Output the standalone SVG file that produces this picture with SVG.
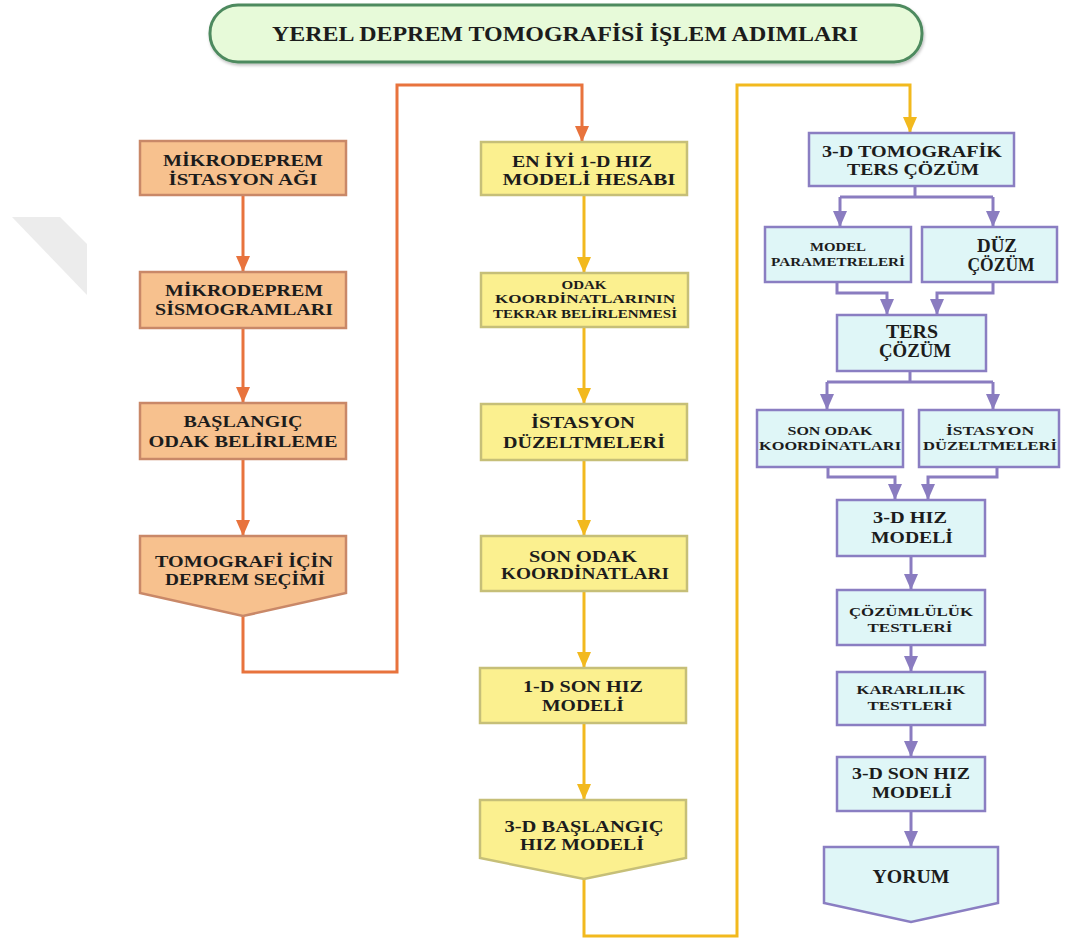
<svg xmlns="http://www.w3.org/2000/svg" width="1065" height="942" viewBox="0 0 1065 942">
<style>
text{font-family:"Liberation Serif","Times New Roman",serif;font-weight:bold;fill:#1c1c1c;text-anchor:middle}
.t20{font-size:21px}.t16{font-size:17px}.t12{font-size:12.5px}.t13{font-size:13.5px}.t17{font-size:18px}.t18{font-size:19px}
.or{fill:#f7c18e;stroke:#c98868;stroke-width:2.5}
.ye{fill:#fbf08f;stroke:#c6bf78;stroke-width:2.5}
.bl{fill:#dff6f7;stroke:#8a7ec2;stroke-width:2.5}
.co{fill:none;stroke:#e8733d;stroke-width:3}
.cy{fill:none;stroke:#f2b91e;stroke-width:3}
.cp{fill:none;stroke:#8a7cc0;stroke-width:3}
</style>
<defs>
<marker id="ao" viewBox="0 0 16 14" refX="15" refY="7" markerWidth="16" markerHeight="14" markerUnits="userSpaceOnUse" orient="auto"><path d="M0,0 L16,7 L0,14 z" fill="#e8733d"/></marker>
<marker id="ay" viewBox="0 0 16 14" refX="15" refY="7" markerWidth="16" markerHeight="14" markerUnits="userSpaceOnUse" orient="auto"><path d="M0,0 L16,7 L0,14 z" fill="#f2b91e"/></marker>
<marker id="ap" viewBox="0 0 16 14" refX="15" refY="7" markerWidth="16" markerHeight="14" markerUnits="userSpaceOnUse" orient="auto"><path d="M0,0 L16,7 L0,14 z" fill="#8a7cc0"/></marker>
<filter id="sh" x="-5%" y="-20%" width="110%" height="150%"><feDropShadow dx="1" dy="2" stdDeviation="1.5" flood-color="#000" flood-opacity="0.25"/></filter>
</defs>
<rect width="1065" height="942" fill="#ffffff"/>
<polygon points="12,217 60,217 87,244 87,295" fill="#ececec"/>

<g id="title">
<rect x="210" y="5" width="712" height="57" rx="28" ry="28" fill="#e7fad9" stroke="#4e8a5e" stroke-width="3" filter="url(#sh)"/>
<text class="t20" x="565" y="41" textLength="586" lengthAdjust="spacingAndGlyphs">YEREL DEPREM TOMOGRAFİSİ İŞLEM ADIMLARI</text>
</g>

<g id="connectors">
<path class="co" d="M243,195 V271" marker-end="url(#ao)"/>
<path class="co" d="M243,328 V402" marker-end="url(#ao)"/>
<path class="co" d="M243,459 V535" marker-end="url(#ao)"/>
<path class="co" d="M243,616 V672 H397 V85 H582 V141" marker-end="url(#ao)"/>
<path class="cy" d="M584,195 V272" marker-end="url(#ay)"/>
<path class="cy" d="M584,327 V403" marker-end="url(#ay)"/>
<path class="cy" d="M584,460 V535" marker-end="url(#ay)"/>
<path class="cy" d="M584,591 V667" marker-end="url(#ay)"/>
<path class="cy" d="M584,723 V799" marker-end="url(#ay)"/>
<path class="cy" d="M584,879 V936 H737 V85 H910 V132" marker-end="url(#ay)"/>
<path class="cp" d="M915,186 V197"/>
<path class="cp" d="M840,197 H993"/>
<path class="cp" d="M840,197 V226" marker-end="url(#ap)"/>
<path class="cp" d="M993,197 V226" marker-end="url(#ap)"/>
<path class="cp" d="M837,282 V293 H887 V314" marker-end="url(#ap)"/>
<path class="cp" d="M993,282 V293 H937 V314" marker-end="url(#ap)"/>
<path class="cp" d="M910,371 V382"/>
<path class="cp" d="M827,382 H993"/>
<path class="cp" d="M827,382 V409" marker-end="url(#ap)"/>
<path class="cp" d="M993,382 V409" marker-end="url(#ap)"/>
<path class="cp" d="M828,467 V477 H895 V499" marker-end="url(#ap)"/>
<path class="cp" d="M997,467 V477 H928 V499" marker-end="url(#ap)"/>
<path class="cp" d="M911,556 V589" marker-end="url(#ap)"/>
<path class="cp" d="M911,645 V671" marker-end="url(#ap)"/>
<path class="cp" d="M911,725 V756" marker-end="url(#ap)"/>
<path class="cp" d="M911,811 V846" marker-end="url(#ap)"/>
</g>

<g id="n-istasyon-agi"><rect class="or" x="140" y="141" width="206" height="54"/>
<text class="t16" x="243" y="166" textLength="160" lengthAdjust="spacingAndGlyphs">MİKRODEPREM</text>
<text class="t16" x="243" y="185" textLength="149" lengthAdjust="spacingAndGlyphs">İSTASYON AĞI</text></g>
<g id="n-sismogramlar"><rect class="or" x="140" y="272" width="206" height="56"/>
<text class="t16" x="244" y="296" textLength="158" lengthAdjust="spacingAndGlyphs">MİKRODEPREM</text>
<text class="t16" x="244" y="315" textLength="178" lengthAdjust="spacingAndGlyphs">SİSMOGRAMLARI</text></g>
<g id="n-baslangic-odak"><rect class="or" x="140" y="403" width="206" height="56"/>
<text class="t16" x="243" y="427" textLength="119" lengthAdjust="spacingAndGlyphs">BAŞLANGIÇ</text>
<text class="t16" x="243" y="447" textLength="189" lengthAdjust="spacingAndGlyphs">ODAK BELİRLEME</text></g>
<g id="n-deprem-secimi"><polygon class="or" points="140,536 346,536 346,593 243,616 140,593"/>
<text class="t16" x="244" y="567" textLength="178" lengthAdjust="spacingAndGlyphs">TOMOGRAFİ İÇİN</text>
<text class="t16" x="245" y="585" textLength="160" lengthAdjust="spacingAndGlyphs">DEPREM SEÇİMİ</text></g>

<g id="n-en-iyi-1d"><rect class="ye" x="481" y="142" width="206" height="53"/>
<text class="t16" x="582" y="167" textLength="140" lengthAdjust="spacingAndGlyphs">EN İYİ 1-D HIZ</text>
<text class="t16" x="589" y="185" textLength="173" lengthAdjust="spacingAndGlyphs">MODELİ HESABI</text></g>
<g id="n-odak-tekrar"><rect class="ye" x="481" y="273" width="207" height="54"/>
<text class="t12" x="584" y="289" textLength="45" lengthAdjust="spacingAndGlyphs">ODAK</text>
<text class="t12" x="585" y="303" textLength="180" lengthAdjust="spacingAndGlyphs">KOORDİNATLARININ</text>
<text class="t12" x="585" y="318" textLength="184" lengthAdjust="spacingAndGlyphs">TEKRAR BELİRLENMESİ</text></g>
<g id="n-istasyon-duz-1"><rect class="ye" x="481" y="404" width="206" height="56"/>
<text class="t16" x="583" y="428" textLength="104" lengthAdjust="spacingAndGlyphs">İSTASYON</text>
<text class="t16" x="584" y="448" textLength="162" lengthAdjust="spacingAndGlyphs">DÜZELTMELERİ</text></g>
<g id="n-son-odak-1"><rect class="ye" x="481" y="536" width="206" height="55"/>
<text class="t16" x="583" y="562" textLength="108" lengthAdjust="spacingAndGlyphs">SON ODAK</text>
<text class="t16" x="585" y="579" textLength="168" lengthAdjust="spacingAndGlyphs">KOORDİNATLARI</text></g>
<g id="n-1d-son"><rect class="ye" x="480" y="668" width="206" height="55"/>
<text class="t16" x="583" y="692" textLength="120" lengthAdjust="spacingAndGlyphs">1-D SON HIZ</text>
<text class="t16" x="583" y="711" textLength="82" lengthAdjust="spacingAndGlyphs">MODELİ</text></g>
<g id="n-3d-baslangic"><polygon class="ye" points="480,800 686,800 686,858 584,879 480,858"/>
<text class="t16" x="584" y="832" textLength="159" lengthAdjust="spacingAndGlyphs">3-D BAŞLANGIÇ</text>
<text class="t16" x="582" y="850" textLength="124" lengthAdjust="spacingAndGlyphs">HIZ MODELİ</text></g>

<g id="n-3d-tomografik"><rect class="bl" x="809" y="133" width="205" height="53"/>
<text class="t16" x="912" y="157" textLength="180" lengthAdjust="spacingAndGlyphs">3-D TOMOGRAFİK</text>
<text class="t16" x="913" y="175" textLength="132" lengthAdjust="spacingAndGlyphs">TERS ÇÖZÜM</text></g>
<g id="n-model-param"><rect class="bl" x="765" y="227" width="146" height="55"/>
<text class="t12" x="838" y="251" textLength="56" lengthAdjust="spacingAndGlyphs">MODEL</text>
<text class="t12" x="838" y="266" textLength="134" lengthAdjust="spacingAndGlyphs">PARAMETRELERİ</text></g>
<g id="n-duz-cozum"><rect class="bl" x="922" y="227" width="135" height="55"/>
<text class="t18" x="997" y="252" textLength="40" lengthAdjust="spacingAndGlyphs">DÜZ</text>
<text class="t18" x="1001" y="271" textLength="67" lengthAdjust="spacingAndGlyphs">ÇÖZÜM</text></g>
<g id="n-ters-cozum"><rect class="bl" x="837" y="315" width="149" height="56"/>
<text class="t17" x="912" y="338" textLength="52" lengthAdjust="spacingAndGlyphs">TERS</text>
<text class="t17" x="915" y="357" textLength="72" lengthAdjust="spacingAndGlyphs">ÇÖZÜM</text></g>
<g id="n-son-odak-2"><rect class="bl" x="757" y="410" width="146" height="57"/>
<text class="t13" x="830" y="435" textLength="85" lengthAdjust="spacingAndGlyphs">SON ODAK</text>
<text class="t13" x="830" y="450" textLength="142" lengthAdjust="spacingAndGlyphs">KOORDİNATLARI</text></g>
<g id="n-istasyon-duz-2"><rect class="bl" x="919" y="410" width="140" height="57"/>
<text class="t13" x="990" y="435" textLength="88" lengthAdjust="spacingAndGlyphs">İSTASYON</text>
<text class="t13" x="990" y="450" textLength="134" lengthAdjust="spacingAndGlyphs">DÜZELTMELERİ</text></g>
<g id="n-3d-hiz"><rect class="bl" x="837" y="500" width="148" height="56"/>
<text class="t16" x="910" y="523" textLength="74" lengthAdjust="spacingAndGlyphs">3-D HIZ</text>
<text class="t16" x="912" y="543" textLength="82" lengthAdjust="spacingAndGlyphs">MODELİ</text></g>
<g id="n-cozumluluk"><rect class="bl" x="837" y="590" width="148" height="55"/>
<text class="t13" x="911" y="616" textLength="124" lengthAdjust="spacingAndGlyphs">ÇÖZÜMLÜLÜK</text>
<text class="t13" x="910" y="632" textLength="85" lengthAdjust="spacingAndGlyphs">TESTLERİ</text></g>
<g id="n-kararlilik"><rect class="bl" x="837" y="672" width="148" height="53"/>
<text class="t13" x="911" y="694" textLength="109" lengthAdjust="spacingAndGlyphs">KARARLILIK</text>
<text class="t13" x="910" y="710" textLength="85" lengthAdjust="spacingAndGlyphs">TESTLERİ</text></g>
<g id="n-3d-son"><rect class="bl" x="837" y="757" width="148" height="54"/>
<text class="t16" x="911" y="779" textLength="118" lengthAdjust="spacingAndGlyphs">3-D SON HIZ</text>
<text class="t16" x="912" y="798" textLength="80" lengthAdjust="spacingAndGlyphs">MODELİ</text></g>
<g id="n-yorum"><polygon class="bl" points="824,847 998,847 998,903 911,922 824,903"/>
<text class="t17" x="911" y="883" textLength="77" lengthAdjust="spacingAndGlyphs">YORUM</text></g>
</svg>
